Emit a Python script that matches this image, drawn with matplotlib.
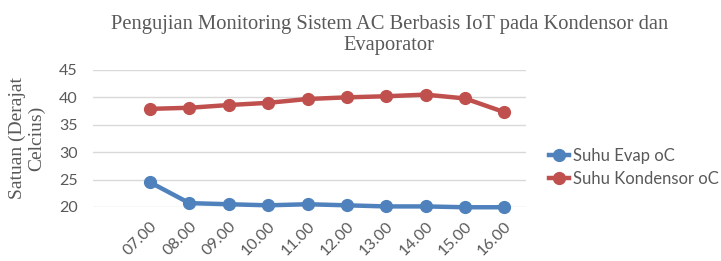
import matplotlib.pyplot as plt

# jam pengukuran
jam = ["07.00", "08.00", "09.00", "10.00", "11.00",
       "12.00", "13.00", "14.00", "15.00", "16.00"]
suhu_evap = [24.5, 20.7, 20.5, 20.3, 20.5, 20.3, 20.1, 20.1, 19.95, 19.95]
suhu_kondensor = [37.9, 38.1, 38.6, 39.0, 39.7, 40.0, 40.2, 40.5, 39.8, 37.3]
y_ticks = [20, 25, 30, 35, 40, 45]

BLUE = "#4F81BD"
RED = "#C0504D"
TXT = "#595959"
GRID = "#D9D9D9"

fig = plt.figure(figsize=(7.21, 2.61), dpi=100)
ax = fig.add_axes([0.129, 0.207, 0.6005, 0.525])

x = list(range(len(jam)))
ax.plot(x, suhu_evap, color=BLUE, lw=3.2, marker="o", ms=8.5,
        label="Suhu Evap oC", clip_on=False, zorder=3)
ax.plot(x, suhu_kondensor, color=RED, lw=3.2, marker="o", ms=8.5,
        label="Suhu Kondensor oC", clip_on=False, zorder=3)

ax.set_xlim(-1.45, 9.55)
ax.set_ylim(20, 45)
ax.set_yticks(y_ticks)
ax.set_xticks(x, jam)
ax.grid(axis="y", color=GRID, lw=1.0)
ax.set_axisbelow(True)
for s in ax.spines.values():
    s.set_visible(False)
ax.tick_params(length=0, colors=TXT, labelsize=11.5)
ax.tick_params(axis="y", pad=11)
for lab in ax.get_xticklabels():
    lab.set_family("Lato")
    lab.set_rotation(45)
    lab.set_ha("right")
    lab.set_va("top")
    lab.set_rotation_mode("anchor")
for lab in ax.get_yticklabels():
    lab.set_family("Lato")
ax.tick_params(axis="x", pad=9)

fig.text(0.540, 0.866, "Pengujian Monitoring Sistem AC Berbasis IoT pada Kondensor dan\nEvaporator",
         ha="center", va="center", family="Liberation Serif", fontsize=14.8,
         color=TXT, linespacing=1.15)
fig.text(0.037, 0.47, "Satuan (Derajat\nCelcius)", rotation=90, ha="center",
         va="center", family="Liberation Serif", fontsize=14, color=TXT,
         linespacing=1.15)

leg = ax.legend(loc="center left", bbox_to_anchor=(0.752, 0.358),
                bbox_transform=fig.transFigure, frameon=False,
                prop={"family": "Lato", "size": 12}, handlelength=1.2,
                handletextpad=0.25, labelspacing=0.42, borderaxespad=0)
for t in leg.get_texts():
    t.set_color(TXT)

fig.savefig("out.png", dpi=100)
